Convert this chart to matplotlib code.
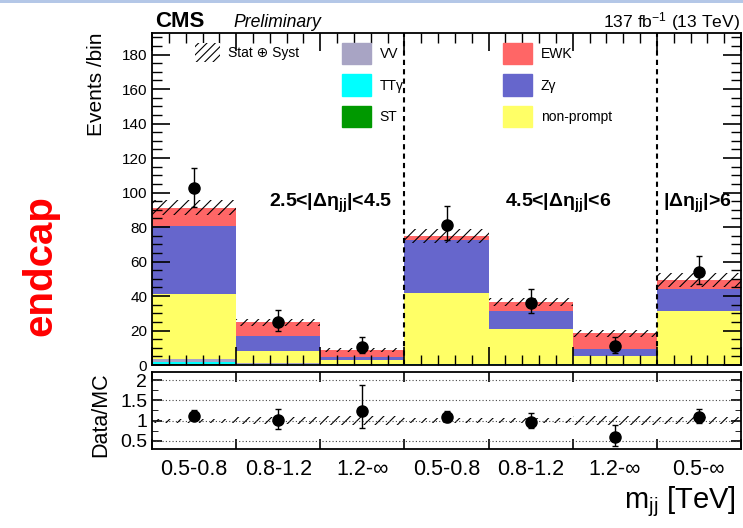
import numpy as np
import matplotlib
matplotlib.use("Agg")
import matplotlib.pyplot as plt
from matplotlib.patches import Patch, Rectangle
from matplotlib.ticker import MultipleLocator

plt.rcParams['font.family'] = ['Liberation Sans', 'DejaVu Sans']
plt.rcParams['mathtext.default'] = 'regular'
plt.rcParams['hatch.linewidth'] = 0.8

# mjj bins, three |delta eta_jj| regions
bin_labels = ['0.5-0.8', '0.8-1.2', '1.2-∞', '0.5-0.8', '0.8-1.2', '1.2-∞', '0.5-∞']

# expected yields per bin (stacked bottom -> top)
st = [0.5, 0.2, 0.1, 0.2, 0.1, 0.1, 0.1]
ttg = [1.3, 0.6, 0.3, 0.4, 0.5, 0.2, 0.2]
vv = [1.7, 0.2, 0.1, 0.2, 0.1, 0.1, 0.1]
nonprompt = [37.5, 7.1, 2.5, 41.2, 20.0, 4.8, 30.9]
zg = [39.6, 8.9, 1.5, 30.5, 10.8, 3.9, 12.6]
ewk = [10.6, 7.7, 4.2, 2.5, 5.2, 9.3, 5.4]
syst = [4.5, 2.0, 1.0, 4.0, 2.4, 2.0, 4.0]

# observed
data = [102.4, 24.8, 10.7, 81.2, 35.8, 11.0, 54.0]
data_up = [12.0, 7.0, 5.7, 10.8, 8.2, 5.4, 9.2]
data_dn = [10.5, 5.0, 3.6, 8.7, 5.8, 4.0, 7.0]

components = [
    ('ST', st, '#009900'),
    ('TTγ', ttg, '#00ffff'),
    ('VV', vv, '#a8a4c4'),
    ('non-prompt', nonprompt, '#ffff66'),
    ('Zγ', zg, '#6666cc'),
    ('EWK', ewk, '#ff6666'),
]

nb = len(bin_labels)
x = np.arange(nb) + 0.5
edges = np.arange(nb + 1)

fig = plt.figure(figsize=(7.43, 5.28), dpi=100)
ax = fig.add_axes([0.2046, 0.3087, 0.7927, 0.6288])
rax = fig.add_axes([0.2046, 0.1496, 0.7927, 0.1459])

bottom = np.zeros(nb)
for name, vals, col in components:
    ax.bar(x, vals, width=1.0, bottom=bottom, color=col, lw=0)
    bottom = bottom + np.array(vals)
total = bottom

lo = np.append(total - np.array(syst), (total - np.array(syst))[-1])
hi = np.append(total + np.array(syst), (total + np.array(syst))[-1])
ax.fill_between(edges, lo, hi, step='post', facecolor='none',
                edgecolor='black', hatch='///', lw=0)

ax.errorbar(x, data, yerr=[data_dn, data_up], fmt='o', color='black',
            ms=8, elinewidth=1, capsize=2, capthick=1)

for xb in [3, 6]:
    ax.axvline(xb, color='black', ls=(0, (2.5, 2)), lw=1.5)

ax.set_xlim(0, nb)
ax.set_ylim(0, 192.5)
ax.yaxis.set_major_locator(MultipleLocator(20))
ax.yaxis.set_minor_locator(MultipleLocator(5))
ax.xaxis.set_major_locator(MultipleLocator(1))
ax.xaxis.set_minor_locator(MultipleLocator(0.2))
ax.tick_params(which='both', direction='in', top=True, right=True, labelsize=11)
ax.tick_params(which='major', length=13, width=1.2)
ax.tick_params(which='minor', length=7, width=1)
ax.tick_params(axis='x', labelbottom=False)
for s in ax.spines.values():
    s.set_linewidth(1.3)

# region labels
ax.text(1.39, 91.6, '2.5<|Δη$_{jj}$|<4.5', fontsize=14, fontweight='bold', va='baseline')
ax.text(4.19, 91.6, '4.5<|Δη$_{jj}$|<6', fontsize=14, fontweight='bold', va='baseline')
ax.text(6.07, 91.6, '|Δη$_{jj}$|>6', fontsize=14, fontweight='bold', va='baseline')

# legends
h_unc = [Patch(facecolor='white', edgecolor='black', hatch='////', lw=0, label='Stat ⊕ Syst')]
h_a = [Patch(color=c, label=n) for n, v, c in [components[2], components[1], components[0]]]
h_b = [Patch(color=c, label=n) for n, v, c in [components[5], components[4], components[3]]]
leg_kw = dict(loc='upper left', frameon=False, fontsize=10, borderpad=0,
              borderaxespad=0, handleheight=2.0, handlelength=2.1,
              labelspacing=0.72, handletextpad=0.6)
l1 = ax.legend(handles=h_unc, bbox_to_anchor=(0.073, 0.97), **dict(leg_kw, handleheight=1.7, handlelength=1.8))
ax.add_artist(l1)
l2 = ax.legend(handles=h_a, bbox_to_anchor=(0.3226, 0.97), **leg_kw)
ax.add_artist(l2)
ax.legend(handles=h_b, bbox_to_anchor=(0.596, 0.97), **leg_kw)

# ratio panel
tot = np.array(total)
ratio = np.array(data) / tot
r_up = np.array(data_up) / tot
r_dn = np.array(data_dn) / tot
rel = np.array(syst) / tot
rlo = np.append(1 - rel, (1 - rel)[-1])
rhi = np.append(1 + rel, (1 + rel)[-1])
for yv in [0.5, 1.0, 1.5, 2.0]:
    rax.axhline(yv, color='#444444', ls=(0, (1, 2)), lw=0.8)
rax.fill_between(edges, rlo, rhi, step='post', facecolor='none',
                 edgecolor='black', hatch='///', lw=0)
rax.errorbar(x, ratio, yerr=[r_dn, r_up], fmt='o', color='black',
             ms=8, elinewidth=1, capsize=2, capthick=1)
rax.set_xlim(0, nb)
rax.set_ylim(0.3, 2.2)
rax.set_yticks([0.5, 1, 1.5, 2])
rax.set_yticklabels(['0.5', '1', '1.5', '2'])
rax.yaxis.set_minor_locator(MultipleLocator(0.25))
rax.set_xticks(edges)
rax.set_xticklabels([])
rax.set_xticks(x, minor=True)
rax.set_xticklabels(bin_labels, minor=True, fontsize=15.5)
rax.tick_params(which='both', direction='in', top=True, right=True)
rax.tick_params(axis='y', labelsize=14)
rax.tick_params(axis='x', which='minor', length=0, pad=7)
rax.tick_params(which='major', length=7, width=1.2)
rax.tick_params(axis='y', which='minor', length=4)
for s in rax.spines.values():
    s.set_linewidth(1.3)

# labels
fig.text(97 / 743, 1 - 33 / 528, 'Events /bin', rotation=90, ha='center', va='top', fontsize=15)
fig.text(101 / 743, 1 - 415 / 528, 'Data/MC', rotation=90, ha='center', va='center', fontsize=15.5)
fig.text(40 / 743, 1 - 266 / 528, 'endcap', rotation=90, ha='center', va='center',
         fontsize=29, fontweight='bold', color='#ff0000')
fig.text(736 / 743, 1 - 508 / 528, 'm$_{jj}$ [TeV]', ha='right', va='baseline', fontsize=21)
fig.text(155 / 743, 1 - 27 / 528, 'CMS', ha='left', va='baseline', fontsize=16, fontweight='bold')
fig.text(233 / 743, 1 - 27 / 528, 'Preliminary', ha='left', va='baseline', fontsize=12.7, style='italic')
fig.text(740 / 743, 1 - 27 / 528, '137 fb$^{-1}$ (13 TeV)', ha='right', va='baseline', fontsize=12.6)

fig.add_artist(Rectangle((0, 1 - 3 / 528), 1, 3 / 528, transform=fig.transFigure,
                         color='#b4c7e7', lw=0))

fig.savefig('out.png', dpi=100)
